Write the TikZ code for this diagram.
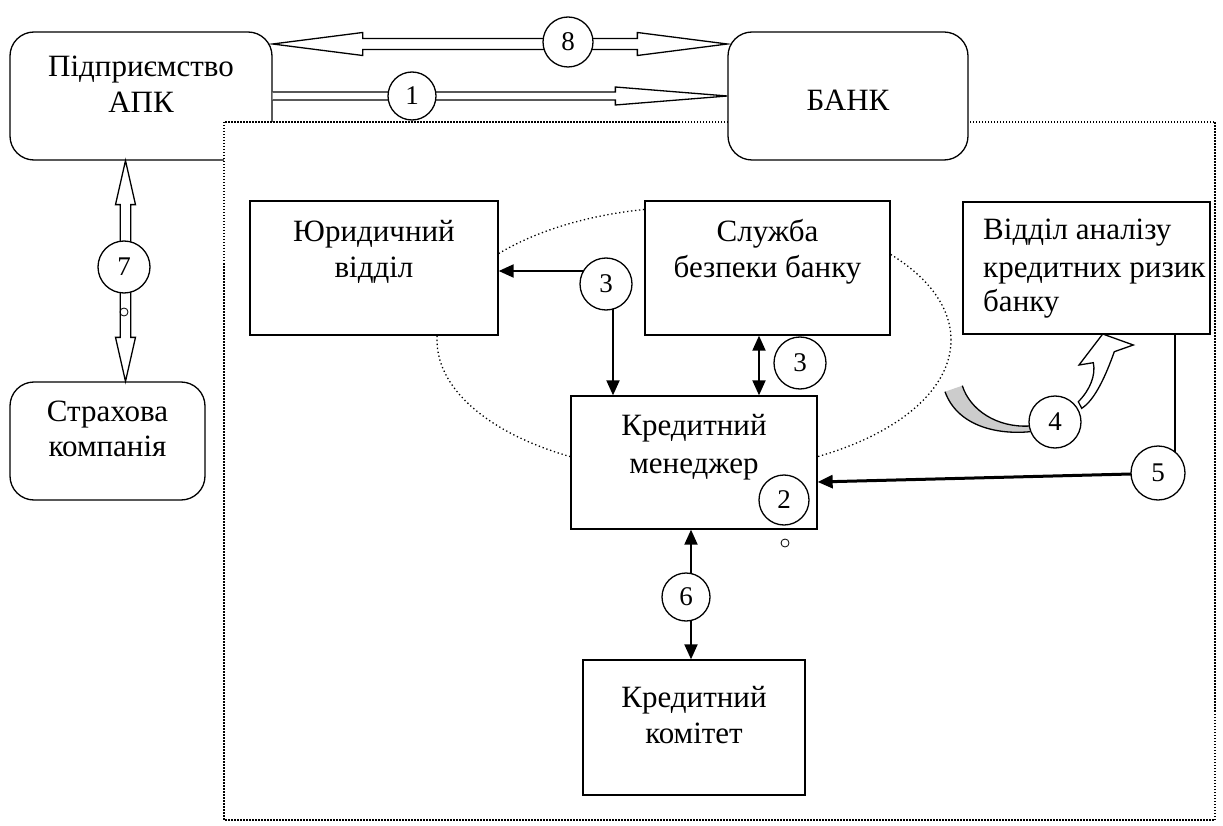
\documentclass[tikz,border=0pt]{standalone}
\usepackage{fontspec}
\setmainfont{Liberation Serif}
\usetikzlibrary{arrows.meta,calc}
\begin{document}
\begin{tikzpicture}[x=1pt,y=-1pt,
 box/.style={draw,fill=white,line width=1.3pt,inner sep=0pt},
 rbox/.style={box,rounded corners=24pt},
 txt/.style={font=\fontsize{31}{37}\selectfont,anchor=base,inner sep=0pt},
 num/.style={circle,draw,fill=white,line width=1.3pt,minimum size=#1,inner sep=0pt,font=\fontsize{27}{27}\selectfont},
 num/.default=50pt,
 con/.style={line width=2pt,-{Triangle[length=15pt,width=13pt]}},
 contwo/.style={line width=2pt,{Triangle[length=15pt,width=13pt]}-{Triangle[length=15pt,width=13pt]}},
 hollow/.style={draw,fill=white,line width=1.3pt,line join=miter},
 dotline/.style={line width=1.5pt,dash pattern=on 1.5pt off 1.5pt},
 ovl/.style={line width=1.3pt,dash pattern=on 1.3pt off 2.7pt},
 dotc/.style={circle,draw,line width=0.8pt,minimum size=8pt,inner sep=0pt}
]
\useasboundingbox (0,0) rectangle (1223,826);
% enterprise box (behind dotted frame)
\node[rbox,minimum width=262pt,minimum height=128pt] (apk) at (141,96) {};
% dotted frame of the bank
\draw[dotline,fill=white] (224,122) rectangle (1215,820);
% dotted ellipse
\draw[ovl] (694,340) ellipse [x radius=257pt, y radius=133pt];
% boxes
\node[rbox,minimum width=240pt,minimum height=128pt] (bank) at (848,96) {};
\node[rbox,minimum width=195pt,minimum height=118pt] (ins) at (107.5,441) {};
\node[box,minimum width=248pt,minimum height=134pt] (jur) at (374,268) {};
\node[box,minimum width=245pt,minimum height=134pt] (sec) at (767.5,268) {};
\node[box,minimum width=247pt,minimum height=132pt] (risk) at (1086.5,268) {};
\node[box,minimum width=246pt,minimum height=133pt] (mgr) at (694,462.5) {};
\node[box,minimum width=222pt,minimum height=135pt] (com) at (694,727.5) {};
% texts
\node[txt] (t1) at (141,77) {Підприємство};
\node[txt] (t2) at (141,113) {АПК};
\node[txt] (t3) at (848,111) {БАНК};
\node[txt] (t4) at (107.5,421) {Страхова};
\node[txt] (t5) at (107.5,456) {компанія};
\node[txt] (t6) at (374,242) {Юридичний};
\node[txt] (t7) at (374,278) {відділ};
\node[txt] (t8) at (767.5,242) {Служба};
\node[txt] (t9) at (767.5,278) {безпеки банку};
\begin{scope}
\clip (963,202) rectangle (1210,334);
\node[txt,anchor=base west] (t10) at (983,240) {Відділ аналізу};
\node[txt,anchor=base west] (t11) at (983,277) {кредитних ризик};
\node[txt,anchor=base west] (t12) at (983,312) {банку};
\end{scope}
\node[txt] (t13) at (694,435) {Кредитний};
\node[txt] (t14) at (694,473) {менеджер};
\node[txt] (t15) at (694,707) {Кредитний};
\node[txt] (t16) at (694,743) {комітет};
% hollow arrow 8 (two heads)
\coordinate (a8l) at (apk.east |- 0,44);
\coordinate (a8r) at (bank.west |- 0,44);
\draw[hollow] (a8l) -- ++(90,-11.5) -- ++(0,6) -- ($(a8r)+(-90,-5.5)$) -- ++(0,-6) -- (a8r)
  -- ++(-90,11.5) -- ++(0,-6) -- ($(a8l)+(90,5.5)$) -- ++(0,6) -- cycle;
% hollow arrow 1
\coordinate (a1l) at (apk.east |- 0,96);
\coordinate (a1r) at (bank.west |- 0,96);
\draw[hollow] ($(a1l)+(0,-4)$) -- ($(a1r)+(-112,-4)$) -- ++(0,-5) -- (a1r) -- ++(-112,9) -- ++(0,-5) -- ($(a1l)+(0,4)$);
% hollow arrow 7 (two heads)
\coordinate (a7t) at (apk.south -| 125.5,0);
\coordinate (a7b) at (ins.north -| 125.5,0);
\draw[hollow] (a7t) -- ++(10,44) -- ++(-4.7,0) -- ($(a7b)+(5.3,-44)$) -- ++(4.7,0) -- (a7b)
  -- ++(-10,-44) -- ++(4.7,0) -- ($(a7t)+(-5.3,44)$) -- ++(-4.7,0) -- cycle;
% connectors
\coordinate (c3a) at (606,284);
\coordinate (p3l) at (583.5,271);
\coordinate (p3d) at (613,309);
\draw[con] (p3l) -- (p3l -| jur.east);
\draw[con] (p3d) -- (p3d |- mgr.north);
\draw[contwo] (sec.south -| 759,0) -- (mgr.north -| 759,0);
\draw[contwo] (mgr.south -| 691,0) -- (com.north -| 691,0);
\coordinate (c5) at (1158,473);
\coordinate (p5t) at (1175,452);
\coordinate (p5l) at (1131,474);
\draw[line width=1.3pt] (risk.south -| p5t) -- (p5t);
\draw[line width=3pt,-{Triangle[length=15pt,width=13pt]}] (p5l) -- (mgr.east |- 0,482);
% curved arrow 4
\fill[black!20] (945,391.7) .. controls (957,425) and (995,435) .. (1030,431.7) -- (1030,426)
  .. controls (997,428) and (970,410) .. (962.3,385.7) -- cycle;
\draw[line width=1.3pt] (945,391.7) .. controls (957,425) and (995,435) .. (1030,431.7);
\draw[line width=1.3pt] (1030,426) .. controls (997,428) and (970,410) .. (962.3,385.7);
\draw[hollow] (1102.7,334) -- (1133.3,345) -- (1114.3,351.7) .. controls (1106,375) and (1095,400) .. (1081.7,408.3)
  -- (1078.3,401.7) .. controls (1090,390) and (1096,375) .. (1093.3,362.7) -- (1079,365) -- cycle;
% number circles
\node[num] (n8) at (568,42) {8};
\node[num=48pt] (n1) at (412,96) {1};
\node[num=52pt] (n7) at (124,267) {7};
\node[dotc] (s7) at (124,312) {};
\node[num=52pt] (n3a) at (c3a) {3};
\node[num=52pt] (n3b) at (800,363) {3};
\node[num=50pt] (n2) at (784,500) {2};
\node[dotc] (s2) at (785,543) {};
\node[num=48pt] (n6) at (686,597) {6};
\node[num=52pt] (n4) at (1055,422) {4};
\node[num=54pt] (n5) at (c5) {5};
\end{tikzpicture}
\end{document}
